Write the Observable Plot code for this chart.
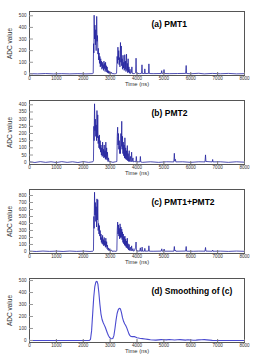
<!DOCTYPE html>
<html><head><meta charset="utf-8">
<script src="https://cdn.jsdelivr.net/npm/d3@7"></script>
<script src="https://cdn.jsdelivr.net/npm/@observablehq/plot@0.6"></script>
<style>
body{margin:0;background:#fff;font-family:"Liberation Sans",Arial,sans-serif}
#c{position:relative;width:274px;height:355px;overflow:hidden}
#c svg{position:absolute;left:0}
</style>
</head><body><div id="c"></div>
<script>
const timeTicks = [0,1000,2000,3000,4000,5000,6000,7000,8000];
const titles = ["(a) PMT1","(b) PMT2","(c) PMT1+PMT2","(d) Smoothing of (c)"];
const yTicksA = [0,100,200,300,400,500];
const yTicksB = [0,50,100,150,200,250,300,350,400];
const yTicksC = [0,100,200,300,400,500,600,700,800];
const yTicksD = [0,100,200,300,400,500];

const pmt1 = [[0,2],[300,0],[600,3],[900,0],[1200,2],[1500,0],[1800,2],[2100,0],[2340,2],
[2370,5],[2385,260],[2395,180],[2405,505],[2420,300],[2435,420],[2450,250],[2465,380],[2480,200],[2500,495],[2515,280],[2530,330],[2545,170],[2560,220],[2575,120],[2590,180],[2605,90],[2620,150],[2635,60],[2650,130],[2665,70],[2680,110],[2695,40],[2710,100],[2725,50],[2740,80],[2755,30],[2770,110],[2785,45],[2800,90],[2815,20],[2830,100],[2845,35],[2860,70],[2875,15],[2890,60],[2905,10],[2920,30],[2935,5],[2950,25],[2970,3],[2990,20],[3010,2],[3040,15],[3070,0],[3100,3],[3150,0],[3200,2],
[3240,5],[3260,150],[3275,90],[3290,230],[3305,120],[3320,200],[3335,80],[3350,140],[3365,60],[3385,270],[3400,100],[3415,240],[3430,70],[3445,130],[3460,40],[3480,160],[3495,50],[3510,100],[3525,30],[3545,165],[3560,40],[3575,110],[3590,20],[3610,170],[3625,30],[3640,90],[3655,10],[3670,130],[3685,15],[3700,60],[3720,5],[3740,40],[3760,3],[3790,10],[3810,60],[3825,3],[3900,2],[3950,10],[3965,135],[3980,5],[4100,2],[4170,5],[4185,78],[4200,3],[4280,3],[4290,43],[4305,3],[4430,4],[4442,86],[4458,3],[4600,2],[4900,3],[4920,28],[4935,3],[4990,5],[5005,37],[5020,3],[5200,2],[5500,3],[5810,4],[5830,72],[5845,3],[6000,1],[6300,5],[6500,0],[6800,4],[7100,1],[7400,4],[7700,0],[8000,2]];

const pmt2 = [[0,3],[200,-2],[400,4],[600,-1],[800,3],[1000,-2],[1200,4],[1400,-1],[1600,3],[1800,-2],[2000,4],[2200,-1],[2360,3],
[2380,10],[2395,250],[2405,150],[2420,407],[2435,220],[2450,300],[2465,180],[2480,260],[2495,150],[2510,360],[2525,170],[2540,330],[2555,130],[2570,180],[2585,100],[2600,190],[2615,90],[2630,150],[2645,70],[2660,120],[2675,50],[2690,100],[2705,40],[2720,140],[2735,45],[2750,90],[2765,30],[2780,120],[2795,35],[2810,80],[2825,20],[2840,140],[2855,25],[2870,100],[2885,15],[2900,70],[2920,5],[2940,30],[2960,2],[3000,5],[3100,-1],[3200,3],
[3250,5],[3265,180],[3280,244],[3295,120],[3310,200],[3325,90],[3340,150],[3355,60],[3370,110],[3385,60],[3400,200],[3415,110],[3432,285],[3445,90],[3460,180],[3475,60],[3490,140],[3505,45],[3520,120],[3535,30],[3550,170],[3565,25],[3580,100],[3595,20],[3610,80],[3625,15],[3640,116],[3655,10],[3670,60],[3690,5],[3710,80],[3725,5],[3760,40],[3775,3],[3800,70],[3815,3],[3850,30],[3865,2],[3900,5],[3960,3],[3975,40],[3990,2],[4110,3],[4126,40],[4140,2],[4200,-1],[4500,3],[4800,-1],[5100,3],[5370,2],[5389,62],[5405,8],[5430,20],[5445,2],[5700,3],[6000,-1],[6300,3],[6530,2],[6550,51],[6565,5],[6800,2],[6815,19],[6830,2],[7100,3],[7400,-1],[7700,3],[8000,0]];

const pmtSum = [[0,5],[250,0],[500,6],[750,1],[1000,5],[1250,0],[1500,6],[1750,1],[2000,5],[2250,0],[2360,4],
[2380,15],[2395,500],[2405,330],[2420,847],[2435,520],[2450,700],[2465,430],[2480,640],[2495,350],[2510,752],[2525,450],[2540,740],[2555,300],[2570,400],[2585,250],[2600,370],[2615,220],[2630,300],[2645,170],[2660,250],[2675,130],[2690,200],[2705,110],[2720,230],[2735,100],[2750,170],[2765,80],[2780,200],[2795,90],[2810,150],[2825,60],[2840,190],[2855,70],[2870,140],[2885,40],[2900,90],[2920,20],[2940,50],[2960,8],[2990,40],[3010,5],[3050,20],[3070,3],[3150,5],[3220,2],
[3250,10],[3265,300],[3280,420],[3295,250],[3310,380],[3325,220],[3340,330],[3355,180],[3370,395],[3385,200],[3400,350],[3415,200],[3432,320],[3445,170],[3460,280],[3475,130],[3490,250],[3505,110],[3520,210],[3535,90],[3550,220],[3565,80],[3580,180],[3595,60],[3610,150],[3625,50],[3640,190],[3655,40],[3670,110],[3690,20],[3710,100],[3725,15],[3760,60],[3775,10],[3800,80],[3815,8],[3850,40],[3865,5],[3900,10],[3950,60],[3965,135],[3980,8],[4100,5],[4126,52],[4140,4],[4180,5],[4190,62],[4205,4],[4280,5],[4291,45],[4305,4],[4430,6],[4442,81],[4458,4],[4600,3],[4900,5],[4922,38],[4935,4],[4990,5],[5010,34],[5025,4],[5370,4],[5389,71],[5405,10],[5430,20],[5445,3],[5810,6],[5830,71],[5845,4],[6100,3],[6300,5],[6530,4],[6550,57],[6565,5],[6800,3],[6815,20],[6830,3],[7100,5],[7400,1],[7700,6],[8000,2]];

const smoothed = [[0,0],[1000,0],[2000,0],[2230,0],[2270,10],[2310,80],[2350,220],[2390,360],[2430,450],[2470,488],[2510,494],[2545,470],[2580,400],[2620,300],[2660,220],[2700,175],[2740,150],[2780,130],[2820,110],[2860,85],[2900,60],[2940,40],[2980,25],[3020,17],[3060,14],[3100,16],[3140,40],[3180,100],[3220,170],[3260,225],[3300,255],[3340,268],[3380,265],[3420,235],[3460,190],[3500,160],[3540,140],[3580,125],[3620,105],[3660,80],[3700,55],[3740,40],[3780,33],[3820,32],[3860,33],[3900,32],[3940,28],[4000,22],[4100,18],[4200,15],[4300,12],[4400,9],[4500,6],[4600,4],[4700,3],[4800,5],[4900,7],[5000,6],[5100,5],[5200,8],[5300,6],[5400,4],[5500,6],[5600,7],[5700,5],[5800,3],[5900,6],[6000,4],[6100,2],[6200,3],[6300,5],[6400,6],[6500,7],[6600,5],[6700,3],[6800,1],[6900,0],[8000,0]];

const panels = [
  {title: titles[0], data: pmt1, domain: [-14, 537], ticks: yTicksA, stroke: "#22229e", sw: 0.8},
  {title: titles[1], data: pmt2, domain: [-16, 430], ticks: yTicksB, stroke: "#22229e", sw: 0.8},
  {title: titles[2], data: pmtSum, domain: [-29, 886], ticks: yTicksC, stroke: "#22229e", sw: 0.8},
  {title: titles[3], data: smoothed, domain: [-17, 517], ticks: yTicksD, stroke: "#4a4ad0", sw: 1.1}
];
const tops = [0, 89, 178, 267];
const fmt = d3.format("d");
const c = document.getElementById("c");
panels.forEach((p, i) => {
  const svg = Plot.plot({
    width: 274, height: 88,
    marginLeft: 29, marginRight: 30, marginTop: 11, marginBottom: 13,
    style: {fontFamily: "'Liberation Sans', Arial, sans-serif", fontSize: "4.6px", color: "#333", background: "white", overflow: "visible"},
    x: {domain: [0, 8000]},
    y: {domain: p.domain},
    marks: [
      Plot.line(p.data, {x: d => d[0], y: d => d[1], stroke: p.stroke, strokeWidth: p.sw, strokeLinejoin: "miter"}),
      Plot.frame({stroke: "#555", strokeWidth: 1}),
      Plot.axisX(timeTicks, {tickSize: -3, text: null, stroke: "#777", label: null}),
      Plot.axisX(timeTicks, {tickSize: 0, tickPadding: 1.5, label: null, fill: "#333", tickFormat: fmt}),
      Plot.axisY(p.ticks, {tickSize: -4, text: null, stroke: "#999", label: null}),
      Plot.axisY(p.ticks, {tickSize: 0, tickPadding: 3, label: null, fill: "#333", tickFormat: fmt}),
      Plot.text(["Time (ns)"], {frameAnchor: "bottom", dy: 9, lineAnchor: "middle", textAnchor: "middle", fontSize: 5.8, fill: "#333"}),
      Plot.text(["ADC value"], {frameAnchor: "left", dx: -20, rotate: -90, textAnchor: "middle", lineAnchor: "middle", fontSize: 6.5, fill: "#333"}),
      Plot.text([p.title], {frameAnchor: "top-left", dx: 122, dy: 13, textAnchor: "start", lineAnchor: "middle", fontSize: 8.5, fontWeight: "bold", fill: "#000"})
    ]
  });
  svg.style.top = tops[i] + "px";
  c.appendChild(svg);
});
</script>
</body></html>
